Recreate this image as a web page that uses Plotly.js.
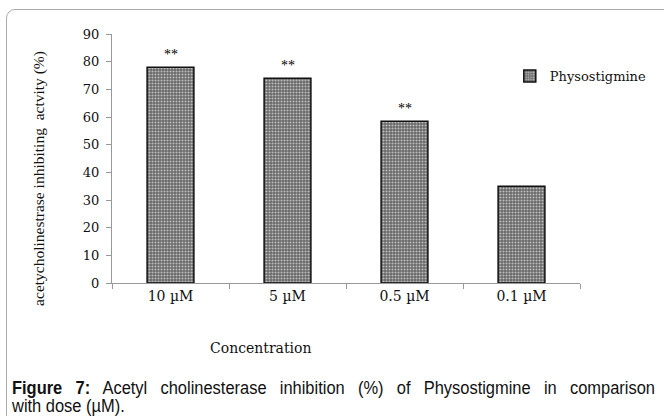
<!DOCTYPE html>
<html>
<head>
<meta charset="utf-8">
<script src="https://cdn.plot.ly/plotly-3.0.1.min.js"></script>
<style>
html,body{margin:0;padding:0;background:#fff;}
#wrap{position:relative;width:664px;height:416px;overflow:hidden;}
#frame{position:absolute;left:6px;top:9px;width:700px;height:460px;border:1.5px solid #ababab;border-radius:9px;box-sizing:border-box;}
#chart{position:absolute;left:0;top:0;width:664px;height:416px;}
.cap{position:absolute;left:12px;transform:scaleX(0.94);transform-origin:0 0;
  font-family:"Liberation Sans",Arial,sans-serif;font-size:17.5px;line-height:18px;height:18px;color:#111;white-space:nowrap;}
#cap1{top:379px;width:684px;text-align:justify;text-align-last:justify;}
#cap2{top:397px;}
</style>
</head>
<body>
<div id="wrap">
<div id="frame"></div>
<div id="chart"></div>
<div class="cap" id="cap1"><b>Figure 7:</b> Acetyl cholinesterase inhibition (%) of Physostigmine in comparison</div>
<div class="cap" id="cap2">with dose (µM).</div>
</div>
<script>
const categories = ["10 µM", "5 µM", "0.5 µM", "0.1 µM"];
const inhibition = [78, 74, 58.5, 35];
const significance = ["**", "**", "**", ""];
const seriesName = "Physostigmine";
const yTicks = [0, 10, 20, 30, 40, 50, 60, 70, 80, 90];

const serif = "DejaVu Serif, Liberation Serif, serif";

const trace = {
  type: "bar",
  x: categories,
  y: inhibition,
  name: seriesName,
  width: 0.4,
  marker: {
    color: "#7a7a7a",
    line: {color: "#111", width: 1.5},
    pattern: {shape: ".", bgcolor: "#666666", fgcolor: "#bdbdbd", size: 3, solidity: 0.4}
  },
  hoverinfo: "skip"
};

const annotations = [];
categories.forEach((c, i) => {
  if (significance[i]) {
    annotations.push({x: c, y: inhibition[i], xref: "x", yref: "y", text: significance[i],
      xanchor: "center", yanchor: "bottom",
      showarrow: false, yshift: 3, font: {family: "Liberation Serif, serif", size: 14, color: "#000"}});
  }
});
annotations.push({xref: "paper", yref: "paper", x: 0.319, y: -0.261, xanchor: "center", yanchor: "middle",
  text: "Concentration", showarrow: false, font: {family: serif, size: 14, color: "#111"}});
annotations.push({xref: "paper", yref: "paper", x: -0.155, y: 0.42, xanchor: "center", yanchor: "middle",
  textangle: -90, text: "acetycholinestrase inhibiting  actvity (%)", showarrow: false,
  font: {family: "Liberation Serif, serif", size: 15.5, color: "#111"}});

const layout = {
  width: 664, height: 416,
  margin: {l: 112, r: 63, t: 34, b: 133, pad: 0},
  paper_bgcolor: "rgba(0,0,0,0)",
  plot_bgcolor: "rgba(0,0,0,0)",
  showlegend: true,
  legend: {x: 0.85, y: 0.831, xanchor: "left", yanchor: "middle", bgcolor: "rgba(0,0,0,0)",
    font: {family: serif, size: 13, color: "#111"}},
  xaxis: {type: "category", range: [-0.5, 3.5], tickson: "boundaries", ticks: "outside", ticklen: 5,
    tickcolor: "#999", showline: true, linecolor: "#999", linewidth: 1, showgrid: false, zeroline: false,
    tickfont: {family: serif, size: 14, color: "#111"}, fixedrange: true},
  yaxis: {range: [0, 90], tickvals: yTicks, ticks: "outside", ticklen: 5, tickcolor: "#999",
    ticklabelstandoff: 4,
    showline: true, linecolor: "#999", linewidth: 1, showgrid: false, zeroline: false,
    tickfont: {family: serif, size: 13, color: "#111"}, fixedrange: true},
  annotations: annotations
};

Plotly.newPlot("chart", [trace], layout, {displayModeBar: false, staticPlot: true});
</script>
</body>
</html>
